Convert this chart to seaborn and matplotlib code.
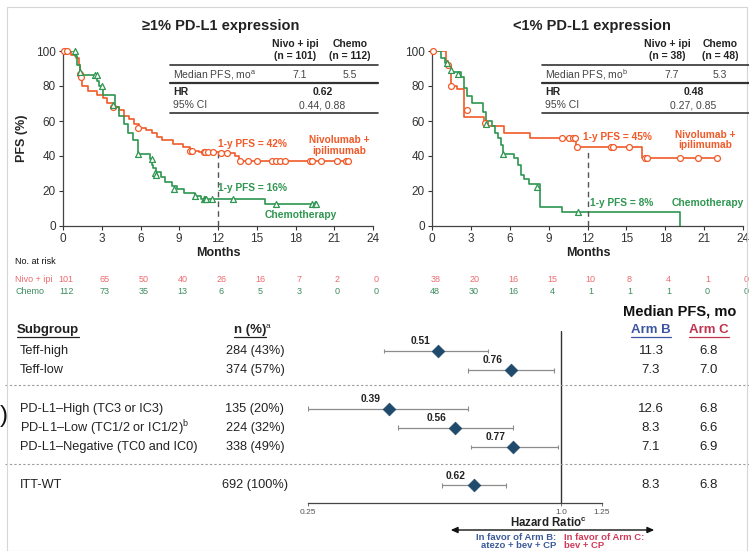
import numpy as np
import pandas as pd
import matplotlib
matplotlib.use("Agg")
import matplotlib.pyplot as plt
import seaborn as sns
from matplotlib.transforms import blended_transform_factory
from matplotlib.lines import Line2D

# ---------------- data ----------------
month_ticks = [0, 3, 6, 9, 12, 15, 18, 21, 24]
pfs_ticks = [0, 20, 40, 60, 80, 100]

# >=1% PD-L1 : Nivo + ipi
l_nivo_t = [0, 0.6, 1.0, 1.2, 1.35, 1.5, 1.9, 2.6, 3.1, 3.4, 3.9, 4.3, 4.7, 5.1, 5.5, 5.9,
            6.4, 6.9, 7.3, 7.7, 8.5, 9.3, 9.8, 10.5, 12.6, 13.3, 13.6, 22.1]
l_nivo_s = [100, 98, 96, 92, 87, 80, 77, 75, 73, 70, 68, 66, 63, 61, 58, 56,
            55, 53, 51, 49, 47, 45, 43, 42, 41.5, 40, 37, 37]
l_nivo_ct = [0.1, 0.3, 1.3, 1.4, 3.9, 5.8, 9.8, 10.0, 10.9, 11.0, 11.2, 11.6, 12.2, 12.7,
             13.7, 14.3, 15.0, 16.2, 16.5, 16.8, 17.2, 19.1, 19.3, 20.0, 21.2, 21.9, 22.1]
l_nivo_cs = [100, 100, 87, 85, 68, 56, 43, 43, 42, 42, 42, 42, 41.5, 41.5,
             37, 37, 37, 37, 37, 37, 37, 37, 37, 37, 37, 37, 37]
# >=1% PD-L1 : Chemo
l_chemo_t = [0, 0.95, 1.05, 1.35, 2.6, 2.8, 3.1, 4.0, 4.35, 4.7, 5.0, 5.4, 5.8, 6.7, 6.9,
             7.0, 7.2, 7.6, 7.9, 8.4, 8.8, 9.4, 10.2, 10.7, 15.6, 19.6]
l_chemo_s = [100, 97, 92, 86, 83, 80, 75, 68, 63, 58, 53, 49, 41, 38, 35,
             33, 31, 28, 25, 23, 21, 19, 17, 15.5, 12.5, 12.5]
l_chemo_ct = [0.9, 1.3, 2.5, 2.6, 3.0, 3.9, 5.8, 6.9, 7.1, 7.2, 8.6, 10.2, 10.9, 11.0,
              11.1, 11.5, 13.2, 16.5, 19.3, 19.5, 19.6]
l_chemo_cs = [100, 88, 86, 86, 80, 69, 41, 38, 30, 29, 21, 17, 15.5, 15.5,
              15.5, 15.5, 15.5, 12.5, 12.5, 12.5, 12.5]

# <1% PD-L1 : Nivo + ipi
r_nivo_t = [0, 1.05, 1.25, 1.45, 1.9, 2.45, 4.05, 5.55, 7.6, 11.1, 16.2, 22.0]
r_nivo_s = [100, 94, 91, 80, 78, 62, 57, 53, 50, 45, 39, 39]
r_nivo_ct = [0.1, 1.2, 1.5, 2.7, 4.1, 10.0, 10.6, 10.9, 11.0, 11.2, 13.8, 14.0, 15.2,
             16.4, 16.6, 19.1, 20.5, 22.0]
r_nivo_cs = [100, 92, 80, 66, 59, 50, 50, 50, 50, 45, 45, 45, 45,
             39, 39, 39, 39, 39]
# <1% PD-L1 : Chemo
r_chemo_t = [0, 0.72, 1.0, 1.15, 1.5, 2.2, 2.5, 2.7, 3.1, 3.9, 4.2, 4.6, 4.9, 5.1, 5.3,
             5.5, 6.3, 6.6, 6.9, 7.1, 7.5, 8.3, 10.0, 19.1]
r_chemo_s = [100, 96, 93, 91, 88, 85, 79, 74, 70, 65, 60, 57, 53, 50, 46,
             41, 39, 35, 29, 27, 24, 11, 8, 0]
r_chemo_ct = [1.15, 1.5, 2.0, 4.2, 5.5, 8.1, 11.3]
r_chemo_cs = [93, 89, 87, 58, 41, 22, 8]

landmark_l = [42, 16]
landmark_r = [45, 8]

# at-risk table
risk_nivo_l = [101, 65, 50, 40, 26, 16, 7, 2, 0]
risk_chemo_l = [112, 73, 35, 13, 6, 5, 3, 0, 0]
risk_nivo_r = [38, 20, 16, 15, 10, 8, 4, 1, 0]
risk_chemo_r = [48, 30, 16, 4, 1, 1, 1, 0, 0]

# summary tables
tab_l = {"n": ["101", "112"], "median": ["7.1", "5.5"], "hr": "0.62", "ci": "0.44, 0.88", "sup": "a"}
tab_r = {"n": ["38", "48"], "median": ["7.7", "5.3"], "hr": "0.48", "ci": "0.27, 0.85", "sup": "b"}

# forest plot
subgroups = ["Teff-high", "Teff-low", "PD-L1\u2013High (TC3 or IC3)",
             "PD-L1\u2013Low (TC1/2 or IC1/2)$^\\mathregular{b}$",
             "PD-L1\u2013Negative (TC0 and IC0)", "ITT-WT"]
n_pct = ["284 (43%)", "374 (57%)", "135 (20%)", "224 (32%)", "338 (49%)", "692 (100%)"]
hr = [0.51, 0.76, 0.39, 0.56, 0.77, 0.62]
ci_low = [0.38, 0.60, 0.25, 0.41, 0.61, 0.52]
ci_high = [0.67, 0.96, 0.60, 0.77, 0.98, 0.74]
arm_b = ["11.3", "7.3", "12.6", "8.3", "7.1", "8.3"]
arm_c = ["6.8", "7.0", "6.8", "6.6", "6.9", "6.8"]
row_pos = [0, 1, 3, 4, 5, 7]
hr_ticks = [0.25, 1.0, 1.25]
hr_ticklabels = ["0.25", "1.0", "1.25"]

# ---------------- style ----------------
sns.set_theme(style="white")
plt.rcParams["font.family"] = ["Liberation Sans", "DejaVu Sans"]
plt.rcParams["mathtext.fontset"] = "custom"
plt.rcParams["mathtext.rm"] = "Liberation Sans"

W, H = 749, 551
fig = plt.figure(figsize=(W / 100, H / 100), dpi=100)
fig.patch.set_facecolor("white")

def fx(px):
    return px / W

def fy(py):
    return 1 - py / H

ORANGE = "#f05a28"
GREEN = "#2e9650"
RISK_OR = "#ee6b6e"
RISK_GR = "#3d8c60"
DARK = "#222222"

# frame remnants
fig.add_artist(Line2D([fx(7), fx(747), fx(747), fx(7), fx(7)],
                      [fy(7), fy(7), fy(551), fy(551), fy(7)],
                      color="#d6d6d6", lw=0.8, transform=fig.transFigure))
fig.text(fx(0), fy(416), ")", fontsize=17, ha="left", va="center", color="#111111")


def draw_km(ax, t, s, color, ct, cs, marker):
    df = pd.DataFrame({"t": t, "s": s})
    sns.lineplot(data=df, x="t", y="s", ax=ax, color=color, drawstyle="steps-post",
                 estimator=None, sort=False, lw=1.2)
    cdf = pd.DataFrame({"t": ct, "s": cs})
    sns.scatterplot(data=cdf, x="t", y="s", ax=ax, marker=marker, s=18, color=color,
                    facecolor="white", edgecolor=color, linewidth=0.9, zorder=3,
                    clip_on=False)


def setup_km(ax):
    ax.set_xlim(0, 24)
    ax.set_ylim(0, 100)
    ax.set_xticks(month_ticks)
    ax.set_yticks(pfs_ticks)
    ax.tick_params(axis="both", labelsize=8.5, length=3, width=0.8, colors="#333333",
                   direction="out", pad=2, bottom=True, left=True)
    for sp in ["top", "right"]:
        ax.spines[sp].set_visible(False)
    for sp in ["left", "bottom"]:
        ax.spines[sp].set_color("#444444")
        ax.spines[sp].set_linewidth(0.9)
    ax.set_xlabel("")
    ax.set_ylabel("")
    ax.set_facecolor("none")


# ---------------- left KM ----------------
axL = fig.add_axes([fx(63), fy(226), fx(373) - fx(63), fy(51) - fy(226)])
draw_km(axL, l_nivo_t, l_nivo_s, ORANGE, l_nivo_ct, l_nivo_cs, "o")
draw_km(axL, l_chemo_t, l_chemo_s, GREEN, l_chemo_ct, l_chemo_cs, "^")
setup_km(axL)
axL.plot([12, 12], [0, landmark_l[0]], ls=(0, (4, 3)), color="#555555", lw=1)
axL.set_ylabel("PFS (%)", fontsize=9, fontweight="bold", labelpad=6)
axL.text(12.0, 47, f"1-y PFS = {landmark_l[0]}%", color=ORANGE, fontsize=7.3,
         fontweight="bold", ha="left", va="center")
axL.text(12.0, 21.5, f"1-y PFS = {landmark_l[1]}%", color=GREEN, fontsize=7.3,
         fontweight="bold", ha="left", va="center")
axL.text(21.4, 49, "Nivolumab +", color=ORANGE, fontsize=7.3, fontweight="bold",
         ha="center", va="center")
axL.text(21.4, 43, "ipilimumab", color=ORANGE, fontsize=7.3, fontweight="bold",
         ha="center", va="center")
axL.text(18.4, 6, "Chemotherapy", color=GREEN, fontsize=7.4, fontweight="bold",
         ha="center", va="center")

# ---------------- right KM ----------------
axR = fig.add_axes([fx(432), fy(226), fx(743) - fx(432), fy(51) - fy(226)])
draw_km(axR, r_nivo_t, r_nivo_s, ORANGE, r_nivo_ct, r_nivo_cs, "o")
draw_km(axR, r_chemo_t, r_chemo_s, GREEN, r_chemo_ct, r_chemo_cs, "^")
setup_km(axR)
axR.plot([12, 12], [0, 43], ls=(0, (4, 3)), color="#555555", lw=1)
axR.text(11.65, 51, f"1-y PFS = {landmark_r[0]}%", color=ORANGE, fontsize=7.3,
         fontweight="bold", ha="left", va="center")
axR.text(12.2, 13, f"1-y PFS = {landmark_r[1]}%", color=GREEN, fontsize=7.3,
         fontweight="bold", ha="left", va="center")
axR.text(21.1, 52, "Nivolumab +", color=ORANGE, fontsize=7.3, fontweight="bold",
         ha="center", va="center")
axR.text(21.1, 46, "ipilimumab", color=ORANGE, fontsize=7.3, fontweight="bold",
         ha="center", va="center")
axR.text(21.3, 13, "Chemotherapy", color=GREEN, fontsize=7.4, fontweight="bold",
         ha="center", va="center")

# titles & x labels
fig.text(fx(221), fy(26), "\u22651% PD-L1 expression", fontsize=10.5, fontweight="bold",
         ha="center", va="center", color=DARK)
fig.text(fx(592), fy(26), "<1% PD-L1 expression", fontsize=10.5, fontweight="bold",
         ha="center", va="center", color=DARK)
fig.text(fx(218), fy(253), "Months", fontsize=9, fontweight="bold", ha="center", va="center", color=DARK)
fig.text(fx(588), fy(253), "Months", fontsize=9, fontweight="bold", ha="center", va="center", color=DARK)

# summary tables
def draw_table(tab, x_left, x_right, x_c1, x_c2):
    hdr = dict(fontsize=7.5, fontweight="bold", ha="center", va="center", color=DARK)
    fig.text(fx(x_c1), fy(44), "Nivo + ipi", **hdr)
    fig.text(fx(x_c2), fy(44), "Chemo", **hdr)
    fig.text(fx(x_c1), fy(56), f"(n = {tab['n'][0]})", **hdr)
    fig.text(fx(x_c2), fy(56), f"(n = {tab['n'][1]})", **hdr)
    for yy, lw in [(65, 1.2), (83, 1.6), (113, 1.2)]:
        fig.add_artist(Line2D([fx(x_left), fx(x_right)], [fy(yy), fy(yy)], color="#333333",
                              lw=lw, transform=fig.transFigure))
    reg = dict(fontsize=7.5, va="center", color="#444444")
    fig.text(fx(x_left + 3), fy(75), "Median PFS, mo$^\\mathregular{%s}$" % tab["sup"], ha="left", **reg)
    fig.text(fx(x_c1 + 5), fy(75), tab["median"][0], ha="center", **reg)
    fig.text(fx(x_c2), fy(75), tab["median"][1], ha="center", **reg)
    fig.text(fx(x_left + 3), fy(92), "HR", ha="left", fontsize=7.5, fontweight="bold", va="center", color=DARK)
    fig.text(fx((x_c1 + x_c2) / 2), fy(92), tab["hr"], ha="center", fontsize=7.5,
             fontweight="bold", va="center", color=DARK)
    fig.text(fx(x_left + 3), fy(105), "95% CI", ha="left", **reg)
    fig.text(fx((x_c1 + x_c2) / 2), fy(105), tab["ci"], ha="center", **reg)

draw_table(tab_l, 170, 378, 295, 350)
draw_table(tab_r, 542, 749, 667, 720)

# at-risk tables
narrow = ["Liberation Sans Narrow", "Liberation Sans", "DejaVu Sans"]

def draw_risk(ax, nivo, chemo):
    tr = blended_transform_factory(ax.transData, fig.transFigure)
    for m, a, b in zip(month_ticks, nivo, chemo):
        ax.text(m + 0.25, fy(279), str(a), transform=tr, ha="center", va="center",
                fontsize=6.5, color=RISK_OR, clip_on=False, family=narrow)
        ax.text(m + 0.25, fy(291), str(b), transform=tr, ha="center", va="center",
                fontsize=6.5, color=RISK_GR, clip_on=False, family=narrow)

draw_risk(axL, risk_nivo_l, risk_chemo_l)
draw_risk(axR, risk_nivo_r, risk_chemo_r)
fig.text(fx(15), fy(262), "No. at risk", fontsize=6.5, color="#111111", ha="left", va="center", family=narrow)
fig.text(fx(15), fy(279), "Nivo + ipi", fontsize=6.5, color=RISK_OR, ha="left", va="center", family=narrow)
fig.text(fx(15), fy(291), "Chemo", fontsize=6.5, color=RISK_GR, ha="left", va="center", family=narrow)

# ---------------- forest plot ----------------
top_px, bot_px, unit = 331, 503, 19.2
fax = fig.add_axes([fx(308), fy(bot_px), fx(602) - fx(308), fy(top_px) - fy(bot_px)])
fax.set_xscale("log")
fax.set_xlim(0.25, 1.25)
fax.set_ylim((bot_px - 351) / unit, (top_px - 351) / unit)
fax.set_facecolor("none")
rows = np.array(row_pos, dtype=float)
fax.hlines(rows, ci_low, ci_high, color="#8c8c8c", lw=0.9)
fax.vlines(ci_low, rows - 0.12, rows + 0.12, color="#8c8c8c", lw=0.8)
fax.vlines(ci_high, rows - 0.12, rows + 0.12, color="#8c8c8c", lw=0.8)
fax.axvline(1.0, color="#333333", lw=1.0)
fdf = pd.DataFrame({"hr": hr, "row": rows})
sns.scatterplot(data=fdf, x="hr", y="row", ax=fax, marker="D", s=42, color="#1f4a6b",
                edgecolor="#1f4a6b", linewidth=0.5, zorder=3)
for h, r in zip(hr, rows):
    fax.annotate(f"{h:.2f}", (h, r), xytext=(-6, 3.5), textcoords="offset points",
                 ha="right", va="bottom", fontsize=7.4, fontweight="bold", color="#222222")
for sp in ["top", "right", "left"]:
    fax.spines[sp].set_visible(False)
fax.spines["bottom"].set_color("#444444")
fax.spines["bottom"].set_linewidth(0.9)
fax.set_xticks(hr_ticks)
fax.set_xticklabels(hr_ticklabels)
fax.xaxis.set_minor_locator(matplotlib.ticker.NullLocator())
fax.set_yticks([])
fax.tick_params(axis="x", labelsize=6, length=2, width=0.6, colors="#555555", pad=2, bottom=True)
fax.set_xlabel("")
fax.set_ylabel("")

trf = blended_transform_factory(fig.transFigure, fax.transData)
for name, n, b, c, r in zip(subgroups, n_pct, arm_b, arm_c, rows):
    fax.text(fx(20), r, name, transform=trf, fontsize=9.2, ha="left", va="center", color=DARK)
    fax.text(fx(255), r, n, transform=trf, fontsize=9.2, ha="center", va="center", color=DARK)
    fax.text(fx(651), r, b, transform=trf, fontsize=9.5, ha="center", va="center", color=DARK)
    fax.text(fx(709), r, c, transform=trf, fontsize=9.5, ha="center", va="center", color=DARK)
for yy in [(385 - 351) / unit, (464 - 351) / unit]:
    fax.plot([fx(5), fx(749)], [yy, yy], transform=trf, clip_on=False, color="#9a9a9a",
             lw=0.8, ls=(0, (2, 2)))

# headers
t_sub = fig.text(fx(17), fy(330), "Subgroup", fontsize=9.5, fontweight="bold", ha="left", va="center", color=DARK)
t_n = fig.text(fx(250), fy(330), "n (%)", fontsize=9.5, fontweight="bold", ha="center", va="center", color=DARK)
fig.text(fx(266), fy(327), "a", fontsize=6, ha="left", va="center", color=DARK)
fig.text(fx(680), fy(312), "Median PFS, mo", fontsize=10.5, fontweight="bold", ha="center", va="center", color="#111111")
t_b = fig.text(fx(651), fy(330), "Arm B", fontsize=9.5, fontweight="bold", ha="center", va="center", color="#3b55a0")
t_c = fig.text(fx(709), fy(330), "Arm C", fontsize=9.5, fontweight="bold", ha="center", va="center", color="#c0344e")

fig.text(fx(548), fy(523), "Hazard Ratio$^\\mathregular{c}$", fontsize=8.3, fontweight="bold",
         ha="center", va="center", color=DARK)
fig.add_artist(matplotlib.patches.FancyArrowPatch((fx(448), fy(530)), (fx(657), fy(530)),
                                                  transform=fig.transFigure,
                                                  arrowstyle="<|-|>,head_length=4,head_width=1.8",
                                                  color="#111111", lw=1.0))
fig.text(fx(556), fy(538), "In favor of Arm B:", fontsize=6.8, fontweight="bold", ha="right",
         va="center", color="#3b5a9a")
fig.text(fx(556), fy(546), "atezo + bev + CP", fontsize=6.8, fontweight="bold", ha="right",
         va="center", color="#3b5a9a")
fig.text(fx(564), fy(538), "In favor of Arm C:", fontsize=6.8, fontweight="bold", ha="left",
         va="center", color="#d03a5a")
fig.text(fx(564), fy(546), "bev + CP", fontsize=6.8, fontweight="bold", ha="left",
         va="center", color="#d03a5a")

# underlines
fig.canvas.draw()
rend = fig.canvas.get_renderer()
for t, col in [(t_sub, DARK), (t_n, DARK), (t_b, "#3b55a0"), (t_c, "#c0344e")]:
    bb = t.get_window_extent(rend)
    y0 = bb.y0 - 0.5
    fig.add_artist(Line2D([bb.x0 / W, bb.x1 / W], [y0 / H, y0 / H], color=col, lw=0.9,
                          transform=fig.transFigure))

fig.savefig("out.png", dpi=100)
